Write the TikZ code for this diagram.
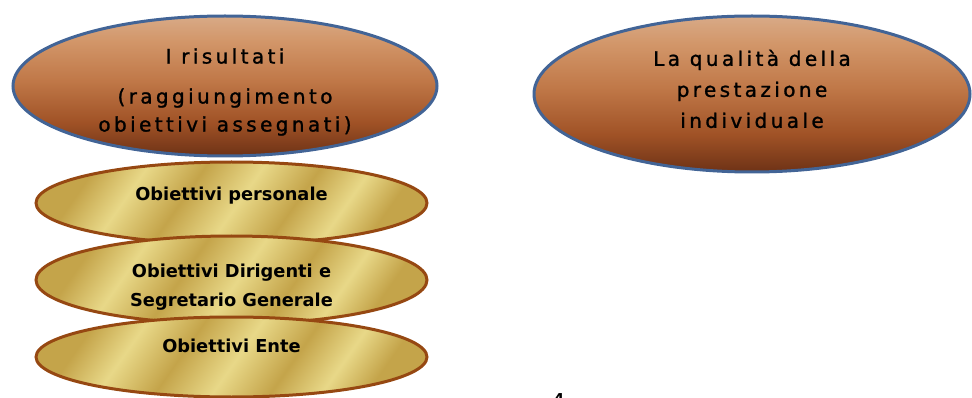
\documentclass[tikz,border=0pt]{standalone}
\usepackage{fontspec}
\usetikzlibrary{shapes.geometric}
\newfontfamily\brfont[LetterSpace=17,FakeBold=1.2]{DejaVu Sans}
\newfontfamily\gdfont{DejaVu Sans}
\definecolor{rimblue}{RGB}{66,100,150}
\definecolor{rimbrown}{RGB}{150,72,18}
\definecolor{brtop}{RGB}{216,170,135}
\definecolor{brhi}{RGB}{210,150,105}
\definecolor{brmid}{RGB}{192,120,72}
\definecolor{brlow}{RGB}{160,82,38}
\definecolor{brbot}{RGB}{110,50,22}
\definecolor{goldlt}{RGB}{232,216,136}
\definecolor{golddk}{RGB}{196,164,74}
\pgfdeclareverticalshading{brownball}{100bp}{color(0bp)=(brbot); color(25bp)=(brbot); color(37bp)=(brlow); color(52bp)=(brmid); color(66bp)=(brhi); color(75bp)=(brtop); color(100bp)=(brtop)}
\pgfdeclarehorizontalshading{goldband}{100bp}{color(0bp)=(golddk); color(25bp)=(golddk); color(33bp)=(goldlt); color(42bp)=(golddk); color(51bp)=(goldlt); color(60bp)=(golddk); color(68bp)=(goldlt); color(75bp)=(golddk); color(100bp)=(golddk)}
\begin{document}
\begin{tikzpicture}[x=1pt, y=-1pt,
brball/.style={ellipse, draw=rimblue, line width=3pt, shading=brownball, inner sep=0pt},
gdball/.style={ellipse, draw=rimbrown, line width=3pt, shading=goldband, shading angle=-35, inner sep=0pt},
brlabel/.style={align=center, inner sep=0pt, font=\brfont\fontsize{20}{28}\selectfont},
gdlabel/.style={align=center, inner sep=0pt, font=\gdfont\bfseries\fontsize{17.8}{29}\selectfont}]
\useasboundingbox (0,0) rectangle (972,398);
\node[gdball, minimum width=391pt, minimum height=82pt] (pers) at (231.5,203) {};
\node[gdball, minimum width=391pt, minimum height=88pt] (dir) at (231.5,280) {};
\node[gdball, minimum width=391pt, minimum height=80pt] (ente) at (231.5,357) {};
\node[brball, minimum width=424pt, minimum height=140pt] (ris) at (225,86) {};
\node[brball, minimum width=436pt, minimum height=156pt] (qual) at (752,94) {};
\node[brlabel, yshift=-6pt] (ristext) at (ris.center) {I risultati\\[12pt](raggiungimento\\obiettivi assegnati)};
\node[brlabel, yshift=5pt, font=\brfont\fontsize{20}{31}\selectfont] (qualtext) at (qual.center) {La qualità della\\prestazione\\individuale};
\node[gdlabel, yshift=7pt] (perstext) at (pers.center) {Obiettivi personale};
\node[gdlabel, yshift=-7.6pt] (dirtext) at (dir.center) {Obiettivi Dirigenti e\\Segretario Generale};
\node[gdlabel, yshift=11.6pt] (entetext) at (ente.center) {Obiettivi Ente};
\node[anchor=north, inner sep=0pt, font=\gdfont\fontsize{26}{26}\selectfont] (pagenum) at (558,393) {4};
\end{tikzpicture}
\end{document}
